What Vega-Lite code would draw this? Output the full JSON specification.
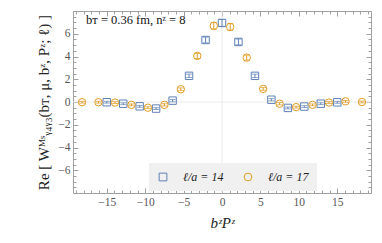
{
  "$schema": "https://vega.github.io/schema/vega-lite/v6.json",
  "width": 298,
  "height": 182,
  "autosize": "none",
  "padding": {"left": 73, "top": 11, "right": 11, "bottom": 50},
  "background": "white",
  "config": {
    "view": {"stroke": "#a0a0a0", "strokeWidth": 1},
    "font": "Liberation Serif",
    "axis": {"domain": false, "grid": false, "tickColor": "#a0a0a0", "labelColor": "#555555", "labelFont": "Liberation Serif", "labelFontSize": 11.5, "titleFont": "Liberation Serif", "titleFontWeight": "normal", "titleColor": "#222222"}
  },
  "data": {
    "values": [
      {"x": -15.01, "y": -0.02, "err": 0.08, "s": "ℓ/a = 14"},
      {"x": -12.86, "y": -0.15, "err": 0.08, "s": "ℓ/a = 14"},
      {"x": -10.72, "y": -0.38, "err": 0.08, "s": "ℓ/a = 14"},
      {"x": -8.58, "y": -0.58, "err": 0.08, "s": "ℓ/a = 14"},
      {"x": -6.43, "y": 0.12, "err": 0.1, "s": "ℓ/a = 14"},
      {"x": -4.29, "y": 2.3, "err": 0.15, "s": "ℓ/a = 14"},
      {"x": -2.14, "y": 5.45, "err": 0.25, "s": "ℓ/a = 14"},
      {"x": 0.0, "y": 6.95, "err": 0.3, "s": "ℓ/a = 14"},
      {"x": 2.14, "y": 5.28, "err": 0.25, "s": "ℓ/a = 14"},
      {"x": 4.29, "y": 2.3, "err": 0.15, "s": "ℓ/a = 14"},
      {"x": 6.43, "y": 0.2, "err": 0.1, "s": "ℓ/a = 14"},
      {"x": 8.58, "y": -0.52, "err": 0.08, "s": "ℓ/a = 14"},
      {"x": 10.72, "y": -0.4, "err": 0.08, "s": "ℓ/a = 14"},
      {"x": 12.86, "y": -0.15, "err": 0.08, "s": "ℓ/a = 14"},
      {"x": 15.01, "y": -0.03, "err": 0.08, "s": "ℓ/a = 14"},
      {"x": -18.22, "y": -0.02, "err": 0.08, "s": "ℓ/a = 17"},
      {"x": -16.08, "y": -0.02, "err": 0.08, "s": "ℓ/a = 17"},
      {"x": -13.93, "y": -0.05, "err": 0.08, "s": "ℓ/a = 17"},
      {"x": -11.79, "y": -0.25, "err": 0.08, "s": "ℓ/a = 17"},
      {"x": -9.65, "y": -0.5, "err": 0.08, "s": "ℓ/a = 17"},
      {"x": -7.5, "y": -0.25, "err": 0.1, "s": "ℓ/a = 17"},
      {"x": -5.36, "y": 1.12, "err": 0.12, "s": "ℓ/a = 17"},
      {"x": -3.22, "y": 4.05, "err": 0.22, "s": "ℓ/a = 17"},
      {"x": -1.07, "y": 6.7, "err": 0.3, "s": "ℓ/a = 17"},
      {"x": 1.07, "y": 6.6, "err": 0.3, "s": "ℓ/a = 17"},
      {"x": 3.22, "y": 3.9, "err": 0.22, "s": "ℓ/a = 17"},
      {"x": 5.36, "y": 1.15, "err": 0.12, "s": "ℓ/a = 17"},
      {"x": 7.5, "y": -0.15, "err": 0.1, "s": "ℓ/a = 17"},
      {"x": 9.65, "y": -0.45, "err": 0.08, "s": "ℓ/a = 17"},
      {"x": 11.79, "y": -0.25, "err": 0.08, "s": "ℓ/a = 17"},
      {"x": 13.93, "y": -0.05, "err": 0.08, "s": "ℓ/a = 17"},
      {"x": 16.08, "y": 0.06, "err": 0.08, "s": "ℓ/a = 17"},
      {"x": 18.22, "y": 0.0, "err": 0.08, "s": "ℓ/a = 17"}
    ]
  },
  "resolve": {"axis": {"x": "independent", "y": "independent"}},
  "layer": [
    {
      "data": {"values": [{}]},
      "mark": {"type": "rule", "color": "#ebebeb", "strokeWidth": 1},
      "encoding": {
        "y": {"datum": 0, "type": "quantitative", "scale": {"domain": [-8, 8], "nice": false, "zero": false}, "axis": {"orient": "right", "values": [-6, -4, -2, 0, 2, 4, 6], "labels": false, "tickSize": -5, "title": null}}
      }
    },
    {
      "data": {"values": [{}]},
      "mark": {"type": "rule", "color": "#ebebeb", "strokeWidth": 1},
      "encoding": {
        "x": {"datum": 0, "type": "quantitative", "scale": {"domain": [-19.4, 19.4], "nice": false, "zero": false}, "axis": {"orient": "top", "values": [-15, -10, -5, 0, 5, 10, 15], "labels": false, "tickSize": -5, "title": null}}
      }
    },
    {
      "transform": [{"filter": "datum.s === 'ℓ/a = 14'"}],
      "mark": {"type": "errorbar", "ticks": {"size": 6}, "thickness": 1, "color": "#5e81b5"},
      "encoding": {
        "x": {"field": "x", "type": "quantitative", "axis": {"orient": "top", "values": [-19,-18,-17,-16,-14,-13,-12,-11,-9,-8,-7,-6,-4,-3,-2,-1,1,2,3,4,6,7,8,9,11,12,13,14,16,17,18,19], "labels": false, "tickSize": -3, "title": null}},
        "y": {"field": "y", "type": "quantitative", "axis": {"orient": "right", "values": [-7.5,-7,-6.5,-5.5,-5,-4.5,-3.5,-3,-2.5,-1.5,-1,-0.5,0.5,1,1.5,2.5,3,3.5,4.5,5,5.5,6.5,7,7.5], "labels": false, "tickSize": -3, "title": null}},
        "yError": {"field": "err"}
      }
    },
    {
      "transform": [{"filter": "datum.s === 'ℓ/a = 17'"}],
      "mark": {"type": "errorbar", "ticks": {"size": 6}, "thickness": 1, "color": "#e19c24"},
      "encoding": {
        "x": {"field": "x", "type": "quantitative", "axis": null},
        "y": {"field": "y", "type": "quantitative", "axis": null},
        "yError": {"field": "err"}
      }
    },
    {
      "mark": {"type": "point", "filled": false, "size": 55, "strokeWidth": 1, "opacity": 1},
      "encoding": {
        "x": {"field": "x", "type": "quantitative", "axis": {"orient": "bottom", "values": [-19,-18,-17,-16,-14,-13,-12,-11,-9,-8,-7,-6,-4,-3,-2,-1,1,2,3,4,6,7,8,9,11,12,13,14,16,17,18,19], "labels": false, "tickSize": -3, "title": null}},
        "y": {"field": "y", "type": "quantitative", "axis": {"orient": "left", "values": [-7.5,-7,-6.5,-5.5,-5,-4.5,-3.5,-3,-2.5,-1.5,-1,-0.5,0.5,1,1.5,2.5,3,3.5,4.5,5,5.5,6.5,7,7.5], "labels": false, "tickSize": -3, "title": null}},
        "color": {"field": "s", "type": "nominal", "scale": {"domain": ["ℓ/a = 14", "ℓ/a = 17"], "range": ["#5e81b5", "#e19c24"]}, "title": null,
          "legend": {"orient": "none", "legendX": 76, "legendY": 152, "direction": "horizontal", "fillColor": "#f0f0f0", "padding": 8, "columnPadding": 18, "labelFont": "Liberation Serif", "labelFontStyle": "italic", "labelFontSize": 12, "labelColor": "#222222", "symbolSize": 60, "symbolStrokeWidth": 1, "labelOffset": 14, "title": null}},
        "shape": {"field": "s", "type": "nominal", "scale": {"domain": ["ℓ/a = 14", "ℓ/a = 17"], "range": ["square", "circle"]}, "title": null}
      }
    },
    {
      "data": {"values": [{}]},
      "mark": {"type": "text", "align": "left", "baseline": "middle", "font": "Liberation Serif", "fontSize": 12.5, "color": "#111111"},
      "encoding": {
        "x": {"datum": -17.7, "type": "quantitative", "axis": {"orient": "bottom", "values": [-15, -10, -5, 0, 5, 10, 15], "tickSize": -5, "labelPadding": 8, "title": "bᶻPᶻ", "titleFontSize": 15, "titleFontStyle": "italic", "titlePadding": 8}},
        "y": {"datum": 7.2, "type": "quantitative", "axis": {"orient": "left", "values": [-6, -4, -2, 0, 2, 4, 6], "tickSize": -5, "labelPadding": 8, "title": "Re [ Wᴹˢᵧ₄ᵧ₃(bᴛ, μ, bᶻ, Pᶻ; ℓ) ]", "titleFontSize": 15, "titlePadding": 6}},
        "text": {"value": "bᴛ = 0.36 fm,  nᶻ = 8"}
      }
    }
  ]
}
